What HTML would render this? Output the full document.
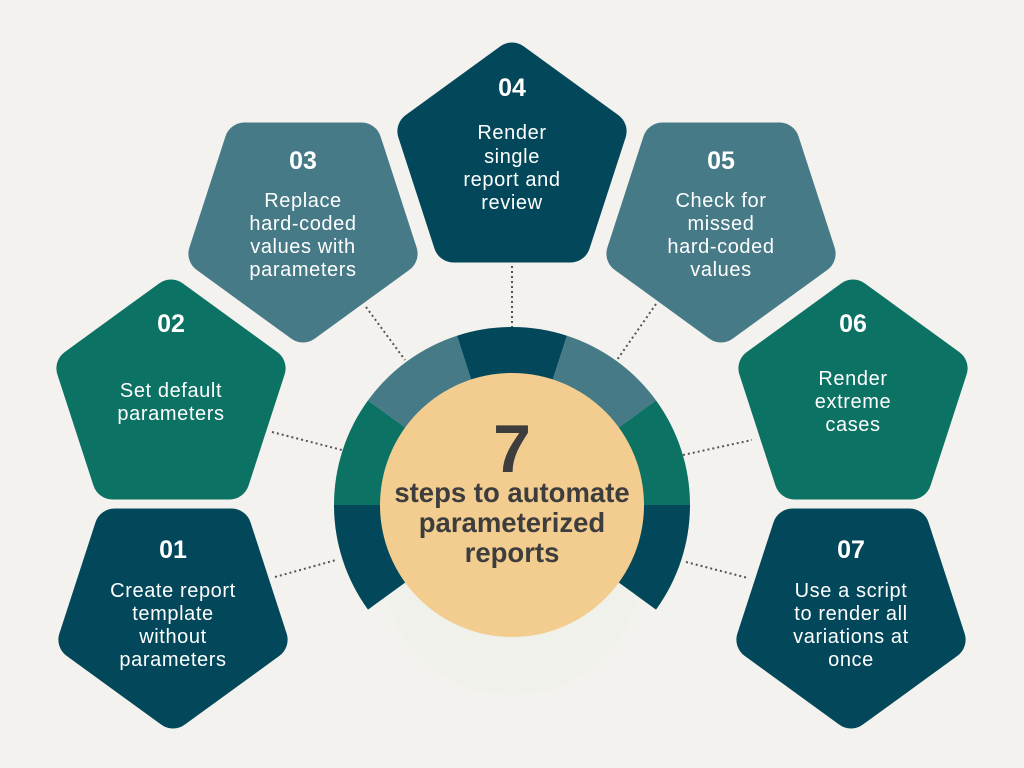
<!DOCTYPE html>
<html><head><meta charset="utf-8"><style>
html,body{margin:0;padding:0;background:#f4f2ee;}
svg{display:block}
.n{font-family:"Liberation Sans",sans-serif;font-weight:bold;font-size:25px;fill:#fff;text-anchor:middle}
.t{font-family:"Liberation Sans",sans-serif;font-size:20px;letter-spacing:0.6px;fill:#fff;text-anchor:middle}
.c{font-family:"Liberation Sans",sans-serif;font-weight:bold;fill:#3d3d3d;text-anchor:middle}
</style></head><body>
<svg id="s" width="1024" height="768" viewBox="0 0 1024 768" xmlns="http://www.w3.org/2000/svg">
<rect width="1024" height="768" fill="#f4f2ee"/>
<circle cx="512" cy="565" r="130" fill="#f0f1ea"/>
<g stroke="#555" stroke-width="2" stroke-dasharray="2 3" fill="none">
<line x1="275" y1="577" x2="336" y2="560"/>
<line x1="272" y1="432" x2="342" y2="450"/>
<line x1="366" y1="307" x2="405" y2="360"/>
<line x1="512" y1="266" x2="512" y2="328"/>
<line x1="656" y1="304" x2="617" y2="360"/>
<line x1="683" y1="455" x2="752" y2="440"/>
<line x1="686" y1="562" x2="748" y2="578"/>
</g>
<g id="shapes"></g>
<circle cx="512" cy="505" r="132" fill="#f2cd8f"/>
<text class="c" x="512" y="472" font-size="68">7</text>
<text class="c" x="512" y="502" font-size="27.5">steps to automate</text>
<text class="c" x="512" y="532" font-size="27.5">parameterized</text>
<text class="c" x="512" y="562" font-size="27.5">reports</text>

<text class="n" x="173" y="558">01</text>
<text class="t" x="173" y="597">Create report</text>
<text class="t" x="173" y="620">template</text>
<text class="t" x="173" y="643">without</text>
<text class="t" x="173" y="666">parameters</text>

<text class="n" x="171" y="332">02</text>
<text class="t" x="171" y="397">Set default</text>
<text class="t" x="171" y="420">parameters</text>

<text class="n" x="303" y="169">03</text>
<text class="t" x="303" y="207">Replace</text>
<text class="t" x="303" y="230">hard-coded</text>
<text class="t" x="303" y="253">values with</text>
<text class="t" x="303" y="276">parameters</text>

<text class="n" x="512" y="96">04</text>
<text class="t" x="512" y="139">Render</text>
<text class="t" x="512" y="163">single</text>
<text class="t" x="512" y="186">report and</text>
<text class="t" x="512" y="209">review</text>

<text class="n" x="721" y="169">05</text>
<text class="t" x="721" y="207">Check for</text>
<text class="t" x="721" y="230">missed</text>
<text class="t" x="721" y="253">hard-coded</text>
<text class="t" x="721" y="276">values</text>

<text class="n" x="853" y="332">06</text>
<text class="t" x="853" y="385">Render</text>
<text class="t" x="853" y="408">extreme</text>
<text class="t" x="853" y="431">cases</text>

<text class="n" x="851" y="558">07</text>
<text class="t" x="851" y="597">Use a script</text>
<text class="t" x="851" y="620">to render all</text>
<text class="t" x="851" y="643">variations at</text>
<text class="t" x="851" y="666">once</text>
</svg>
<script>
var D="#02485a",G="#0b7264",S="#467a87";
var g=document.getElementById("shapes"),h="";
function pent(cx,cy,up,col){var R=99.5,p=[];for(var i=0;i<5;i++){var a=(i*72+(up?0:180))*Math.PI/180;p.push((cx+R*Math.sin(a)).toFixed(1)+","+(cy-R*Math.cos(a)).toFixed(1));}
h+='<polygon points="'+p.join(" ")+'" fill="'+col+'" stroke="'+col+'" stroke-width="40" stroke-linejoin="round"/>';}
pent(173,609,false,D);pent(171,399,true,G);pent(303,223,false,S);pent(512,162,true,D);pent(721,223,false,S);pent(853,399,true,G);pent(851,609,false,D);
function pt(r,t){var a=t*Math.PI/180;return (512+r*Math.sin(a)).toFixed(1)+","+(505-r*Math.cos(a)).toFixed(1);}
var cols=[D,G,S,D,S,G,D];
for(var i=0;i<7;i++){var a0=-126+i*36,a1=a0+36,r1=128,r2=178;
h+='<path d="M'+pt(r2,a0)+' A'+r2+','+r2+' 0 0 1 '+pt(r2,a1)+' L'+pt(r1,a1)+' A'+r1+','+r1+' 0 0 0 '+pt(r1,a0)+' Z" fill="'+cols[i]+'"/>';}
g.innerHTML=h;
</script>
</body></html>
